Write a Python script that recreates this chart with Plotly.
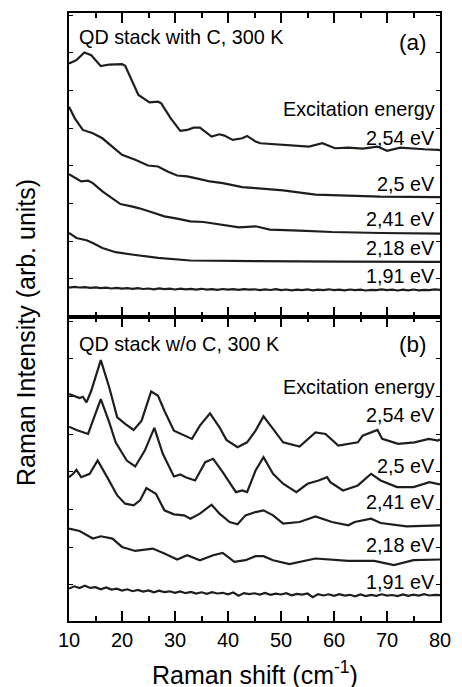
import plotly.graph_objects as go

# ---------------- data: panel (a) QD stack with C ----------------
a254_x = [10.0, 11.4, 12.9, 14.2, 16.0, 17.6, 20.0, 20.6, 23.1, 24.0, 25.2, 26.8, 27.4, 29.2, 31.0, 32.3,
          33.5, 34.7, 36.9, 38.4, 39.3, 40.9, 42.7, 43.6, 45.2, 46.1, 50.4, 52.5, 55.3, 57.8, 60.2, 62.7,
          65.4, 68.2, 70.0, 72.5, 75.0, 77.0, 79.6, 80.0]
a254_y = [252.3, 255.7, 263.3, 260.7, 249.7, 251.3, 251.7, 250.0, 220.7, 217.3, 213.3, 214.0, 212.3, 197.3,
          184.7, 185.7, 188.0, 188.0, 179.0, 181.3, 180.0, 175.7, 177.3, 179.7, 174.0, 172.3, 170.7, 170.0,
          169.0, 172.3, 167.3, 168.0, 167.0, 169.0, 164.7, 168.0, 166.7, 166.3, 165.7, 165.5]

a250_x = [10.0, 11.1, 12.6, 14.5, 16.3, 18.2, 20.0, 22.5, 24.9, 26.8, 28.6, 30.4, 32.3, 34.7, 36.6, 39.0,
          40.9, 42.7, 45.2, 50.4, 56.5, 62.7, 68.7, 79.6, 80.0]
a250_y = [209.0, 197.3, 185.7, 182.3, 177.3, 169.0, 160.7, 155.7, 150.0, 149.0, 144.0, 140.0, 139.0, 136.3,
          134.0, 132.3, 130.0, 128.3, 127.3, 125.0, 120.7, 120.0, 118.7, 118.3, 118.3]

a241_x = [10.0, 10.8, 12.3, 13.6, 14.5, 16.3, 18.2, 19.7, 21.8, 23.1, 25.5, 28.0, 30.4, 32.9, 35.4, 37.8,
          40.3, 42.1, 45.2, 47.9, 53.5, 59.6, 68.8, 79.6, 80.0]
a241_y = [141.3, 139.0, 134.0, 134.7, 132.3, 124.0, 117.3, 111.3, 109.0, 107.3, 103.3, 99.0, 96.7, 94.0,
          93.3, 91.3, 89.7, 88.0, 89.0, 85.7, 84.7, 83.3, 82.3, 81.7, 81.7]

a218_x = [10.0, 11.4, 13.3, 14.5, 16.3, 18.8, 21.8, 26.8, 32.9, 39.0, 45.2, 61.7, 79.6, 80.0]
a218_y = [82.3, 77.3, 75.0, 72.3, 67.3, 63.0, 60.7, 57.3, 54.7, 54.0, 54.0, 53.5, 53.3, 53.3]

a191_x = list(range(10, 81))
a191_y = [27.5, 28.3, 27.6, 27.9, 27.2, 27.8, 26.9, 27.4, 26.6, 27.3, 26.4, 26.9, 26.2, 27.0, 26.1, 26.6,
          25.8, 26.7, 25.9, 26.4, 25.6, 26.5, 25.7, 26.2, 25.5, 26.3, 25.4, 26.0, 25.3, 26.1, 25.5, 25.9,
          25.2, 26.0, 25.4, 25.8, 24.9, 25.7, 25.1, 25.9, 25.0, 25.6, 24.8, 25.5, 24.9, 25.7, 24.8, 25.4,
          25.0, 25.8, 24.9, 25.5, 24.7, 25.6, 25.0, 25.4, 24.6, 25.3, 24.9, 25.7, 25.0, 25.5, 24.6, 25.4,
          24.8, 25.6, 24.7, 25.3, 25.0, 25.7, 25.2]

# ---------------- data: panel (b) QD stack w/o C ----------------
b254_x = [10.0, 11.1, 12.0, 12.6, 13.3, 14.2, 16.0, 17.6, 19.1, 20.6, 22.2, 23.7, 25.5, 26.8, 28.0, 29.8,
          31.7, 33.2, 34.7, 36.6, 38.4, 39.7, 41.8, 43.6, 45.2, 46.7, 48.5, 50.4, 53.5, 56.5, 58.4, 60.8,
          64.5, 65.4, 68.2, 69.1, 72.1, 75.2, 77.9, 79.6, 80.0]
b254_y = [227.7, 225.3, 223.7, 225.0, 219.3, 231.0, 261.7, 234.3, 204.3, 197.7, 191.7, 201.0, 230.3, 226.0,
          211.0, 191.0, 186.0, 182.7, 196.0, 208.3, 194.3, 181.7, 174.3, 179.3, 191.0, 205.3, 192.7, 179.3,
          175.0, 189.3, 187.7, 176.0, 179.3, 186.0, 191.7, 182.7, 177.7, 179.3, 182.7, 181.0, 182.0]

b250_x = [10.0, 11.4, 13.6, 16.0, 17.6, 18.8, 20.9, 22.5, 24.3, 26.1, 27.7, 29.8, 31.0, 32.0, 33.8, 35.7,
          37.2, 39.0, 41.5, 42.7, 43.6, 45.2, 46.7, 48.5, 50.4, 52.9, 55.0, 57.1, 58.7, 59.3, 61.7, 64.5,
          67.0, 68.8, 71.9, 75.0, 78.0, 79.6, 80.0]
b250_y = [195.0, 191.7, 187.7, 222.7, 199.3, 179.3, 161.0, 155.0, 171.0, 193.7, 167.7, 145.0, 147.0, 144.3,
          141.0, 159.3, 162.7, 149.3, 129.3, 131.0, 129.3, 151.0, 164.3, 147.7, 137.7, 129.3, 137.7, 141.0,
          144.3, 139.3, 131.0, 136.0, 147.7, 141.0, 134.3, 134.3, 139.3, 137.0, 137.0]

b241_x = [10.0, 10.8, 11.4, 12.3, 13.9, 15.4, 17.2, 19.1, 20.6, 22.2, 23.4, 24.6, 26.4, 28.0, 29.8, 31.7,
          32.9, 34.7, 36.9, 38.4, 40.3, 41.8, 43.3, 45.2, 46.7, 48.5, 50.4, 53.5, 56.5, 59.6, 62.7, 63.9,
          67.0, 68.8, 73.7, 79.6, 80.0]
b241_y = [144.3, 147.7, 151.7, 144.3, 147.7, 161.0, 144.3, 126.0, 117.7, 116.0, 121.0, 133.3, 127.7, 111.0,
          107.0, 106.0, 102.7, 107.7, 116.7, 107.7, 99.3, 97.0, 106.0, 109.3, 111.0, 106.0, 97.7, 99.3,
          105.0, 99.3, 96.0, 99.3, 102.7, 98.3, 95.0, 96.0, 96.0]

b218_x = [10.0, 12.0, 14.5, 16.0, 18.2, 20.0, 22.5, 25.8, 28.0, 30.4, 32.3, 34.7, 37.2, 39.0, 41.2, 43.3,
          45.2, 46.7, 48.5, 51.6, 56.5, 62.7, 67.6, 71.3, 75.0, 79.6, 80.0]
b218_y = [92.7, 90.3, 82.7, 85.0, 82.7, 74.3, 70.3, 72.7, 67.7, 61.7, 66.0, 61.0, 66.0, 68.3, 59.3, 61.0,
          65.0, 65.0, 61.0, 57.0, 62.7, 60.3, 60.3, 56.0, 61.0, 61.7, 61.7]

b191_x = list(range(10, 81))
b191_y = [32.5, 34.8, 33.0, 35.5, 33.2, 34.0, 31.8, 33.6, 31.5, 32.4, 30.6, 31.8, 29.9, 31.2, 29.5, 30.6,
          28.8, 30.4, 29.0, 29.8, 28.2, 29.6, 27.9, 29.2, 27.5, 28.8, 27.2, 28.9, 27.6, 28.3, 26.8, 28.6,
          25.4, 28.0, 26.9, 27.8, 26.5, 28.2, 26.2, 27.4, 26.6, 27.9, 25.8, 27.2, 26.4, 27.6, 23.9, 27.0,
          25.6, 26.8, 25.2, 26.9, 25.5, 26.3, 24.8, 26.6, 25.0, 26.2, 25.3, 26.8, 25.4, 26.1, 25.0, 26.7,
          25.2, 26.4, 25.5, 26.9, 25.6, 26.3, 25.9]

energy_labels = ["2,54 eV", "2,5 eV", "2,41 eV", "2,18 eV", "1,91 eV"]
label_y_a = [178, 131, 96, 67, 39]
label_y_b = [207, 155.3, 119.3, 76.7, 39.3]

# ---------------- figure ----------------
LINE = dict(color="#1e1e1e", width=2.2)
FONT = "Arial, Liberation Sans, sans-serif"

fig = go.Figure()
for xs, ys in [(a254_x, a254_y), (a250_x, a250_y), (a241_x, a241_y), (a218_x, a218_y), (a191_x, a191_y)]:
    fig.add_trace(go.Scatter(x=xs, y=ys, mode="lines", line=LINE, xaxis="x", yaxis="y",
                             showlegend=False, hoverinfo="skip"))
for xs, ys in [(b254_x, b254_y), (b250_x, b250_y), (b241_x, b241_y), (b218_x, b218_y), (b191_x, b191_y)]:
    fig.add_trace(go.Scatter(x=xs, y=ys, mode="lines", line=LINE, xaxis="x2", yaxis="y2",
                             showlegend=False, hoverinfo="skip"))

xcommon = dict(range=[10, 80], showline=True, linewidth=2, linecolor="black", mirror="ticks",
               ticks="inside", dtick=10, tick0=10, ticklen=10, tickwidth=1.5, tickcolor="black",
               minor=dict(dtick=5, ticklen=5, tickwidth=1.5, ticks="inside", tickcolor="black"),
               showgrid=False, zeroline=False)
ycommon = dict(showline=True, linewidth=2, linecolor="black", mirror="ticks", ticks="inside",
               tick0=-1.5, dtick=37.8, ticklen=4, tickwidth=1.2, tickcolor="black",
               showticklabels=False, showgrid=False, zeroline=False)

annotations = []
def txt(text, x, y, xref, yref, size=19.8, xanchor="right", **kw):
    annotations.append(dict(text=text, x=x, y=y, xref=xref, yref=yref, showarrow=False,
                            xanchor=xanchor, yanchor="middle",
                            font=dict(family=FONT, size=size, color="black"), **kw))

txt("QD stack with C, 300 K", 11.6, 279, "x", "y", xanchor="left")
txt("(a)", 77.9, 273, "x", "y", size=22.5)
txt("Excitation energy", 79.4, 207, "x", "y")
for lab, yy in zip(energy_labels, label_y_a):
    txt(lab, 79.4, yy, "x", "y")

txt("QD stack w/o C, 300 K", 11.6, 278.3, "x2", "y2", xanchor="left")
txt("(b)", 77.9, 277, "x2", "y2", size=22.5)
txt("Excitation energy", 79.4, 235, "x2", "y2")
for lab, yy in zip(energy_labels, label_y_b):
    txt(lab, 79.4, yy, "x2", "y2")

annotations.append(dict(text="Raman shift (cm<sup>-1</sup>)", x=0.5, y=0, xref="paper", yref="paper",
                        yanchor="middle", xanchor="center", yshift=-52, showarrow=False,
                        font=dict(family=FONT, size=25, color="black")))
annotations.append(dict(text="Raman Intensity (arb. units)", x=0, y=0.4738, xref="paper", yref="paper",
                        xanchor="center", yanchor="middle", xshift=-43, textangle=-90, showarrow=False,
                        font=dict(family=FONT, size=25, color="black")))

fig.update_layout(
    width=462, height=687,
    margin=dict(l=69, r=12, t=11, b=66),
    paper_bgcolor="white", plot_bgcolor="white",
    font=dict(family=FONT, color="black"),
    xaxis=dict(**xcommon, anchor="y", showticklabels=False, matches="x2"),
    yaxis=dict(**ycommon, domain=[0.5, 1], range=[-2, 303]),
    xaxis2=dict(**xcommon, anchor="y2", showticklabels=True,
                tickfont=dict(family=FONT, size=20, color="black")),
    yaxis2=dict(**ycommon, domain=[0, 0.5], range=[0, 305]),
    annotations=annotations,
)

fig.write_html("out.html", config={"displayModeBar": False},
               post_script="document.body.style.margin='0px';document.body.style.overflow='hidden';")
